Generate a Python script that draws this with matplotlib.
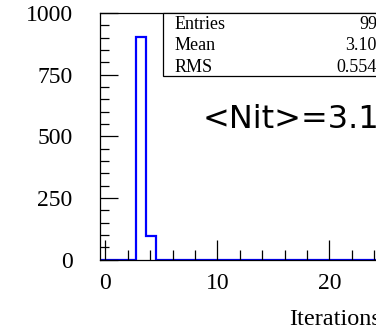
import matplotlib
matplotlib.use("Agg")
import matplotlib.pyplot as plt
from matplotlib.patches import Rectangle

# histogram of iterations (bin edges and counts)
bin_edges = [-0.45, 2.7, 3.6, 4.5, 25.0]
counts = [0, 903, 94, 0]

stat_names = ["Entries", "Mean", "RMS"]
stat_values = ["999", "3.101", "0.5544"]
nit_text = "<Nit>=3.10"

W, H = 376, 333
fig = plt.figure(figsize=(W / 100, H / 100), dpi=100)

# axes in pixel terms: left 100.5, right ~383, top 13, bottom 259.5
x0, x1, ytop, ybot = 100.5, 383.0, 13.0, 259.5
ax = fig.add_axes([x0 / W, 1 - ybot / H, (x1 - x0) / W, (ybot - ytop) / H])

ax.stairs(counts, bin_edges, color="blue", lw=1.6, baseline=0)

px_per_unit = 11.2
ax.set_xlim((x0 - 105.3) / px_per_unit, (x1 - 105.3) / px_per_unit)
ax.set_ylim(0, 1000)

ax.set_xticks([0, 10, 20])
ax.set_xticks(range(0, 25, 2), minor=True)
ax.set_yticks([0, 250, 500, 750, 1000])
ax.set_yticks(range(0, 1001, 50), minor=True)

ax.tick_params(axis="both", which="both", direction="in", colors="black")
ax.tick_params(axis="x", which="major", length=14.5, width=0.9, pad=10)
ax.tick_params(axis="x", which="minor", length=7, width=0.9)
ax.tick_params(axis="y", which="major", length=13, width=0.9, pad=20)
ax.tick_params(axis="y", which="minor", length=6.5, width=0.9)
for lab in ax.get_xticklabels() + ax.get_yticklabels():
    lab.set_fontfamily("Liberation Serif")
    lab.set_fontsize(17)
for s in ax.spines.values():
    s.set_linewidth(0.9)

# x axis title, right aligned with the frame end
fig.text(381 / W, 1 - 325 / H, "Iterations", ha="right", va="baseline",
         fontfamily="Liberation Serif", fontsize=17.5)

# stats box
bx0, by0, by1 = 163, 13, 76
fig.patches.append(Rectangle((bx0 / W, 1 - by1 / H), (x1 - bx0 + 2) / W,
                             (by1 - by0) / H, transform=fig.transFigure,
                             facecolor="white", edgecolor="black", lw=0.9))
for i, (name, val) in enumerate(zip(stat_names, stat_values)):
    yb = 1 - (29 + 21.5 * i) / H
    fig.text(175 / W, yb, name, ha="left", va="baseline",
             fontfamily="Liberation Serif", fontsize=13)
    fig.text(386 / W, yb, val, ha="right", va="baseline",
             fontfamily="Liberation Serif", fontsize=13)

fig.text(203 / W, 1 - 128 / H, nit_text, ha="left", va="baseline",
         fontfamily="DejaVu Sans", fontsize=23)

fig.savefig("out.png", dpi=100)
